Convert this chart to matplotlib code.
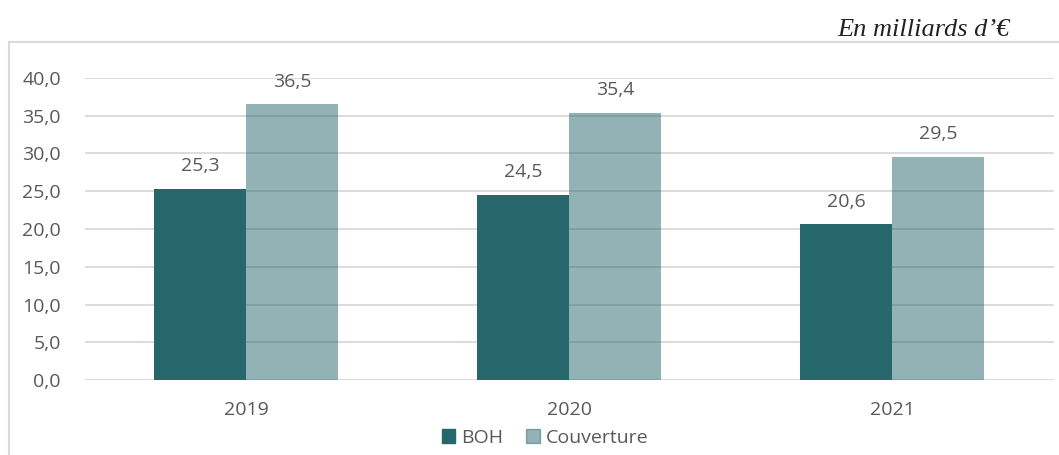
import matplotlib.pyplot as plt
import numpy as np
from matplotlib.lines import Line2D
from matplotlib.patches import Patch

############
### DATA ###
############

years = ['2019', '2020', '2021']
boh = [25.3, 24.5, 20.6]
couverture = [36.5, 35.4, 29.5]
series_names = ['BOH', 'Couverture']

dark = '#26676C'
grey_txt = '#595959'
grid_col = '#D9D9D9'

plt.rcParams['font.family'] = ['Open Sans', 'DejaVu Sans']

W, H = 1059, 455
fig = plt.figure(figsize=(W / 100, H / 100), dpi=100)
ax = fig.add_axes([84.5 / W, 1 - 380 / H, 969 / W, 302 / H])

x = np.arange(len(years))
bw = 0.285
ax.bar(x - bw / 2, boh, bw, color=dark, zorder=2)
ax.bar(x + bw / 2, couverture, bw, color=dark, alpha=0.5, zorder=3)

for xi, v in zip(x, boh):
    ax.annotate(f'{v:.1f}'.replace('.', ','), (xi - bw / 2, v), xytext=(0, 10),
                textcoords='offset points', ha='center', va='bottom',
                fontsize=14, color=grey_txt)
for xi, v in zip(x, couverture):
    ax.annotate(f'{v:.1f}'.replace('.', ','), (xi + bw / 2, v), xytext=(0, 10),
                textcoords='offset points', ha='center', va='bottom',
                fontsize=14, color=grey_txt)

ax.set_xlim(-0.5, 2.5)
ax.set_ylim(0, 40)
ax.set_yticks(np.arange(0, 41, 5))
ax.set_yticklabels([f'{t:.1f}'.replace('.', ',') for t in np.arange(0, 41, 5)])
ax.set_xticks(x)
ax.set_xticklabels(years)
ax.tick_params(length=0, labelsize=14, labelcolor=grey_txt)
ax.tick_params(axis='y', pad=17)
ax.tick_params(axis='x', pad=15)
ax.grid(axis='y', color=grid_col, linewidth=1.3, zorder=0)
ax.set_axisbelow(True)
for s in ax.spines.values():
    s.set_visible(False)

handles = [Patch(color=dark), Patch(color=dark, alpha=0.5)]
fig.legend(handles, series_names, loc='center', bbox_to_anchor=(545 / W, 1 - 438 / H),
           ncol=2, frameon=False, fontsize=14, labelcolor=grey_txt,
           handlelength=0.7, handleheight=0.7, handletextpad=0.3, columnspacing=1.2)

# frame of the chart area (only top and left visible)
fig.add_artist(Line2D([9 / W, 1], [1 - 42 / H, 1 - 42 / H], color=grid_col, lw=1.5))
fig.add_artist(Line2D([9 / W, 9 / W], [0, 1 - 42 / H], color=grid_col, lw=1.5))

fig.text(1010 / W, 1 - 30 / H, 'En milliards d\u2019\u20ac', ha='right', va='center',
         fontsize=19, style='italic', family='Liberation Serif', color='#222222')

fig.savefig('out.png', dpi=100)
